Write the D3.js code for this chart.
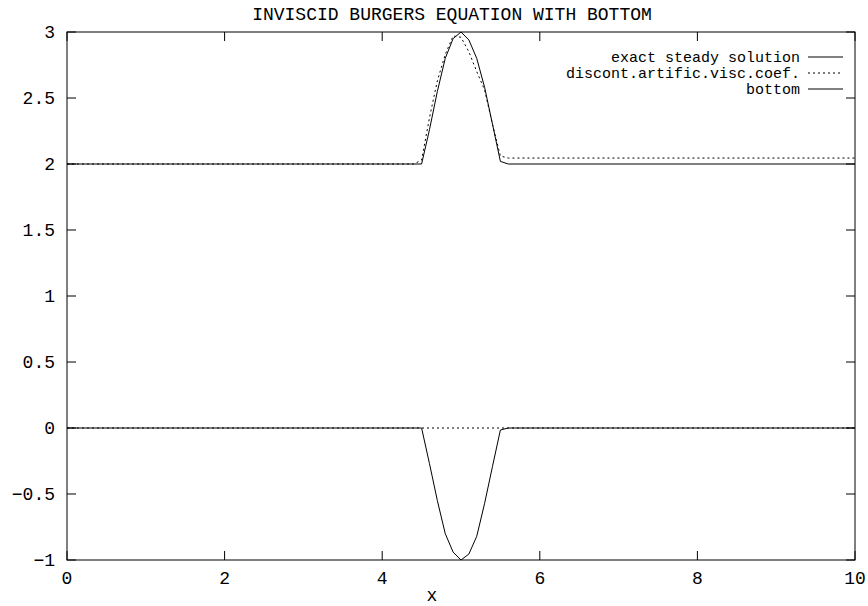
<!DOCTYPE html>
<html>
<head>
<meta charset="utf-8">
<script src="https://cdn.jsdelivr.net/npm/d3@7/dist/d3.min.js"></script>
<style>
  body { margin: 0; background: #fff; }
  text { font-family: "Liberation Mono", "Courier New", monospace; font-size: 18px; fill: #000; }
  .legend text { font-size: 15px; }
</style>
</head>
<body>
<div id="chart"></div>
<script>
// ============================================================================
// data
// ============================================================================

const chartTitle = "INVISCID BURGERS EQUATION WITH BOTTOM";
const xLabel = "x";

const xTicks = [0, 2, 4, 6, 8, 10];
const yTicks = [-1, -0.5, 0, 0.5, 1, 1.5, 2, 2.5, 3];

// exact steady solution
const exactX = [0, 4.5, 4.6, 4.7, 4.8, 4.9, 5.0, 5.1, 5.2, 5.3, 5.4, 5.5, 5.6, 10];
const exactY = [2, 2.0, 2.26, 2.55, 2.80, 2.95, 3.0, 2.94, 2.80, 2.58, 2.30, 2.02, 2.0, 2.0];

// discont.artific.visc.coef. (two blocks, the second one lies on the bottom)
const discX = [0, 4.4, 4.5, 4.6, 4.7, 4.8, 4.9, 5.0, 5.1, 5.2, 5.3, 5.4, 5.5, 5.6, 10];
const discY = [2, 2.0, 2.03, 2.35, 2.63, 2.83, 2.97, 2.96, 2.85, 2.70, 2.56, 2.30, 2.06, 2.045, 2.045];
const discLowX = [0, 10];
const discLowY = [0, 0];

// bottom
const bottomX = [0, 4.5, 4.6, 4.7, 4.8, 4.9, 5.0, 5.1, 5.2, 5.3, 5.4, 5.5, 5.6, 10];
const bottomY = [0, 0, -0.27, -0.55, -0.80, -0.94, -1.0, -0.955, -0.82, -0.57, -0.29, -0.015, 0, 0];

const legendNames = ["exact steady solution", "discont.artific.visc.coef.", "bottom"];

// ============================================================================
// drawing
// ============================================================================

const width = 868, height = 606;
const margin = { left: 67, right: 13, top: 32, bottom: 46 };

const svg = d3.select("#chart").append("svg")
    .attr("width", width)
    .attr("height", height);

const x = d3.scaleLinear().domain([0, 10]).range([margin.left, width - margin.right]);
const y = d3.scaleLinear().domain([-1, 3]).range([height - margin.bottom, margin.top]);

const tickLen = 9;
const fmt = d => (d < 0 ? "\u2212" : "") + Math.abs(d);

// ticks, inward on all four sides
const axes = svg.append("g").attr("stroke", "#000").attr("stroke-width", 1);

xTicks.forEach(t => {
    axes.append("line")
        .attr("x1", x(t)).attr("x2", x(t))
        .attr("y1", y(-1)).attr("y2", y(-1) - tickLen);
    axes.append("line")
        .attr("x1", x(t)).attr("x2", x(t))
        .attr("y1", y(3)).attr("y2", y(3) + tickLen);
});
yTicks.forEach(t => {
    axes.append("line")
        .attr("x1", x(0)).attr("x2", x(0) + tickLen)
        .attr("y1", y(t)).attr("y2", y(t));
    axes.append("line")
        .attr("x1", x(10)).attr("x2", x(10) - tickLen)
        .attr("y1", y(t)).attr("y2", y(t));
});

// frame
svg.append("rect")
    .attr("x", x(0)).attr("y", y(3))
    .attr("width", x(10) - x(0)).attr("height", y(-1) - y(3))
    .attr("fill", "none").attr("stroke", "#000").attr("stroke-width", 1);

// tick labels
svg.append("g").selectAll("text")
    .data(xTicks)
    .join("text")
    .attr("x", d => x(d))
    .attr("y", y(-1) + 24)
    .attr("text-anchor", "middle")
    .text(fmt);

svg.append("g").selectAll("text")
    .data(yTicks)
    .join("text")
    .attr("x", x(0) - 12)
    .attr("y", d => y(d) + 6)
    .attr("text-anchor", "end")
    .text(fmt);

// title and axis label
svg.append("text")
    .attr("x", 452).attr("y", 20)
    .attr("text-anchor", "middle")
    .text(chartTitle);

svg.append("text")
    .attr("x", 432).attr("y", 601)
    .attr("text-anchor", "middle")
    .text(xLabel);

// curves
const line = d3.line().x(d => x(d[0])).y(d => y(d[1]));
const pairs = (xs, ys) => xs.map((v, i) => [v, ys[i]]);

const plot = svg.append("g").attr("fill", "none").attr("stroke", "#000").attr("stroke-width", 1);

plot.append("path").attr("d", line(pairs(exactX, exactY)));
plot.append("path").attr("d", line(pairs(discX, discY))).attr("stroke-dasharray", "2,3");
plot.append("path").attr("d", line(pairs(discLowX, discLowY))).attr("stroke-dasharray", "2,3");
plot.append("path").attr("d", line(pairs(bottomX, bottomY)));

// legend
const legendRight = 800;
const legendY = [57, 73, 89];
const legendDash = [null, "2,3", null];

const legend = svg.append("g").attr("class", "legend");
legendNames.forEach((name, i) => {
    legend.append("text")
        .attr("x", legendRight)
        .attr("y", legendY[i] + 5)
        .attr("text-anchor", "end")
        .text(name);
    legend.append("line")
        .attr("x1", legendRight + 8).attr("x2", legendRight + 43)
        .attr("y1", legendY[i]).attr("y2", legendY[i])
        .attr("stroke", "#000")
        .attr("stroke-dasharray", legendDash[i]);
});
</script>
</body>
</html>
